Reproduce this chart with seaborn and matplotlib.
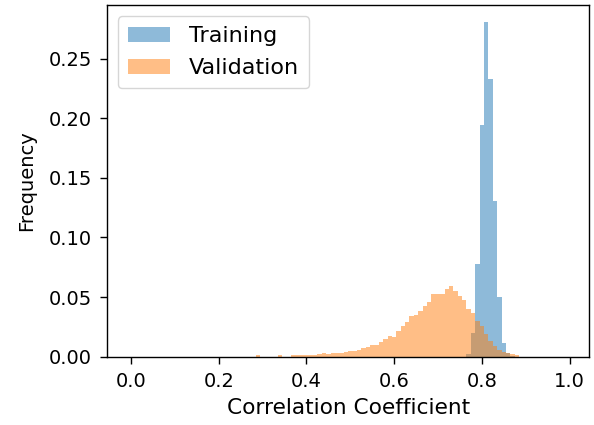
import numpy as np
import pandas as pd
import matplotlib
matplotlib.use("Agg")
import matplotlib.pyplot as plt
import seaborn as sns

# bins of width 0.01, centred on 0.00 .. 0.99
bin_edges = np.arange(-0.005, 1.0, 0.01)
bin_centers = np.round(np.arange(0.0, 1.0, 0.01), 2)

# training frequencies, bins 0.77 .. 0.87
train_start = 0.77
train_freq = [0.0025, 0.020, 0.078, 0.194, 0.281, 0.233, 0.131, 0.050, 0.0115, 0.003, 0.0005]

# validation frequencies, bins 0.28 .. 0.88
val_start = 0.28
val_freq = [0.0, 0.001, 0.0, 0.0, 0.0, 0.0, 0.001, 0.0, 0.0,
            0.001, 0.001, 0.0012, 0.0012, 0.0014, 0.0015, 0.0018, 0.0028, 0.0018,
            0.003, 0.0032, 0.0033, 0.0042, 0.0044, 0.0045, 0.0056, 0.0071, 0.0082,
            0.0096, 0.0098, 0.0121, 0.0146, 0.0172, 0.0165, 0.0216, 0.0255, 0.029,
            0.0342, 0.0345, 0.0386, 0.0423, 0.0458, 0.0525, 0.0527, 0.0527, 0.0565,
            0.0596, 0.0548, 0.0508, 0.0478, 0.0398, 0.0362, 0.030, 0.026, 0.019,
            0.0134, 0.0092, 0.0056, 0.0038, 0.0034, 0.0018, 0.0015]


def full_weights(start, freq):
    w = np.zeros(len(bin_centers))
    i0 = int(round(start * 100))
    w[i0:i0 + len(freq)] = freq
    return w


df_train = pd.DataFrame({"r": bin_centers, "w": full_weights(train_start, train_freq)})
df_val = pd.DataFrame({"r": bin_centers, "w": full_weights(val_start, val_freq)})

plt.rcParams["font.size"] = 14
fig, ax = plt.subplots(figsize=(5.94, 4.25), dpi=100)
sns.histplot(data=df_train, x="r", weights="w", bins=list(bin_edges), color="C0",
             alpha=0.5, linewidth=0, label="Training", ax=ax)
sns.histplot(data=df_val, x="r", weights="w", bins=list(bin_edges), color="C1",
             alpha=0.5, linewidth=0, label="Validation", ax=ax)
ax.set_xlabel("Correlation Coefficient", fontsize=15.6, labelpad=5)
ax.set_ylabel("Frequency", labelpad=9)
ax.set_xticks([0.0, 0.2, 0.4, 0.6, 0.8, 1.0])
ax.tick_params(length=5, pad=6, width=1.0)
for s in ax.spines.values():
    s.set_linewidth(1.0)
ax.legend(loc="upper left", fontsize=16, labelspacing=0.55, handlelength=1.9,
          handletextpad=0.85, borderpad=0.45)
fig.subplots_adjust(left=0.18, right=0.992, top=0.988, bottom=0.161)
fig.savefig("out.png")
